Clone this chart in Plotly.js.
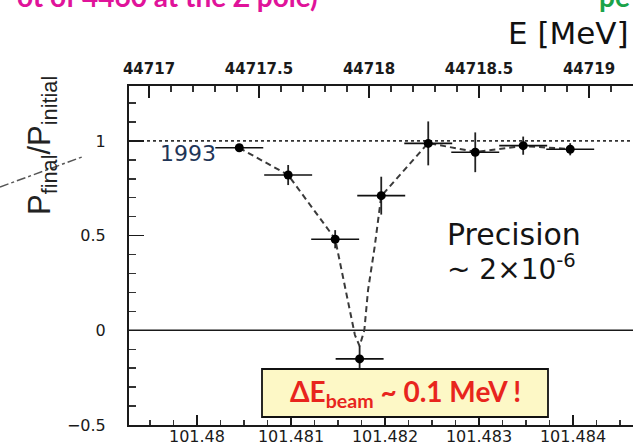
<!DOCTYPE html>
<html>
<head>
<meta charset="utf-8">
<script src="https://cdn.plot.ly/plotly-3.0.1.min.js"></script>
<style>
  html, body { margin: 0; padding: 0; background: #fff; }
  #chart { width: 633px; height: 446px; }
</style>
</head>
<body>
<div id="chart"></div>
<script>
// Measured spin tune points (bottom axis) and the polarisation ratio after the scan
const spinTune = [101.48045, 101.48097, 101.48147, 101.48173, 101.48196, 101.48246, 101.48296, 101.48347, 101.48397];
const spinTuneErr = [0.000255, 0.000255, 0.000255, 0.000255, 0.000255, 0.000255, 0.000255, 0.000255, 0.000255];
const polRatio = [0.964, 0.82, 0.481, -0.151, 0.711, 0.987, 0.94, 0.975, 0.956];
const polRatioErr = [0.016, 0.053, 0.048, 0.069, 0.10, 0.116, 0.105, 0.048, 0.032];

// Dashed guide curve through the depolarisation dip
const curveTune = [101.48045, 101.48097, 101.48147, 101.48160, 101.48168, 101.48173, 101.48178, 101.48182, 101.48189, 101.48196, 101.48246, 101.48296, 101.48347, 101.48397];
const curveRatio = [0.963, 0.82, 0.482, 0.176, -0.025, -0.083, 0.0, 0.213, 0.44, 0.709, 0.989, 0.942, 0.973, 0.957];

// Axis ticks
const tuneTicks = [101.48, 101.481, 101.482, 101.483, 101.484];
const tuneLabels = ['101.48', '101.481', '101.482', '101.483', '101.484'];
const energyTicks = [44717, 44717.5, 44718, 44718.5, 44719];
const energyLabels = ['44717', '44717.5', '44718', '44718.5', '44719'];
const ratioTicks = [-0.5, 0, 0.5, 1];
const ratioLabels = ['\u22120.5', '0', '0.5', '1'];

// Reference levels: full polarisation and zero
const fullPol = 1;
const zeroPol = 0;

// plot frame in pixels, used to place free text
const L = 129, R = 633, T = 86, B = 425;
const px = x => (x - L) / (R - L);
const py = y => (B - y) / (B - T);

const ink = '#1a1a1a';

const traces = [
  {
    x: curveTune, y: curveRatio, xaxis: 'x', yaxis: 'y',
    mode: 'lines', line: { color: '#3a3a3a', width: 2, dash: '6px,4px' },
    hoverinfo: 'skip'
  },
  {
    x: spinTune, y: polRatio, xaxis: 'x', yaxis: 'y',
    mode: 'markers',
    marker: { color: '#000', size: 9 },
    error_x: { type: 'data', array: spinTuneErr, visible: true, color: '#111', thickness: 1.6, width: 0 },
    error_y: { type: 'data', array: polRatioErr, visible: true, color: '#222', thickness: 1.8, width: 0 }
  },
  {
    x: energyTicks, y: energyTicks.map(() => null), xaxis: 'x2', yaxis: 'y',
    mode: 'markers', hoverinfo: 'skip', showlegend: false
  }
];

const layout = {
  width: 633, height: 446,
  margin: { l: L, r: 633 - R, t: T, b: 446 - B },
  paper_bgcolor: '#fff', plot_bgcolor: '#fff',
  showlegend: false,
  xaxis: {
    range: [101.479277, 101.484638],
    tickvals: tuneTicks, ticktext: tuneLabels,
    ticks: 'inside', ticklen: 10, tickwidth: 1.6, tickcolor: ink,
    minor: { dtick: 0.00025, tick0: 101.48, ticks: 'inside', ticklen: 5, tickwidth: 1.3, tickcolor: '#333' },
    showline: true, linecolor: ink, linewidth: 2,
    showgrid: false, zeroline: false,
    tickfont: { family: 'DejaVu Sans', size: 16, color: ink },
    ticklabelstandoff: -4
  },
  xaxis2: {
    overlaying: 'x', side: 'top', anchor: 'y',
    range: [44716.909, 44719.2],
    tickvals: energyTicks, ticktext: energyLabels,
    ticks: 'inside', ticklen: 12, tickwidth: 1.6, tickcolor: ink,
    minor: { dtick: 0.1, tick0: 44717, ticks: 'inside', ticklen: 6, tickwidth: 1.4, tickcolor: '#333' },
    showline: true, linecolor: ink, linewidth: 2,
    showgrid: false, zeroline: false,
    tickfont: { family: 'DejaVu Sans', size: 15, color: ink, weight: 'bold' },
    ticklabelstandoff: 4
  },
  yaxis: {
    range: [-0.5, 1.29],
    tickvals: ratioTicks, ticktext: ratioLabels,
    ticks: 'inside', ticklen: 15, tickwidth: 1.6, tickcolor: ink,
    minor: { dtick: 0.1, tick0: 0, ticks: 'inside', ticklen: 7, tickwidth: 1.4, tickcolor: '#333' },
    showline: true, linecolor: ink, linewidth: 2,
    showgrid: false, zeroline: false,
    tickfont: { family: 'DejaVu Sans', size: 16, color: ink },
    ticklabelstandoff: 18
  },
  shapes: [
    { type: 'line', xref: 'paper', yref: 'y', x0: 0, x1: 1, y0: fullPol, y1: fullPol,
      line: { color: '#333', width: 1.6, dash: 'dot' }, layer: 'below' },
    { type: 'line', xref: 'paper', yref: 'y', x0: 0, x1: 1, y0: zeroPol, y1: zeroPol,
      line: { color: ink, width: 1.6 }, layer: 'below' },
    // diagonal dash-dot stroke behind the vertical label
    { type: 'line', xref: 'paper', yref: 'paper', x0: px(0), y0: py(187), x1: px(82), y1: py(157),
      line: { color: '#555', width: 1.5, dash: 'dashdot' } },
    // highlight box for the beam energy note
    { type: 'rect', xref: 'paper', yref: 'paper', x0: px(262), x1: px(548), y0: py(417), y1: py(369),
      fillcolor: '#fdf8c6', line: { color: '#111', width: 1.8 } }
  ],
  annotations: [
    { xref: 'paper', yref: 'paper', x: px(42), y: py(146), textangle: -90,
      xanchor: 'center', yanchor: 'middle',
      text: 'P<sub>final</sub>/P<sub>initial</sub>', showarrow: false,
      font: { family: 'Liberation Sans', size: 31, color: '#222' } },
    { xref: 'paper', yref: 'paper', x: px(631), y: py(33), xanchor: 'right', yanchor: 'middle',
      text: 'E [MeV]', showarrow: false,
      font: { family: 'DejaVu Sans', size: 31, color: '#111' } },
    { xref: 'paper', yref: 'paper', x: px(320), y: py(-4), xanchor: 'right', yanchor: 'middle',
      text: '<b>ot of 4460 at the Z pole)</b>', showarrow: false,
      font: { family: 'Lato', size: 28, color: '#e0139a' } },
    { xref: 'paper', yref: 'paper', x: px(597), y: py(-4), xanchor: 'left', yanchor: 'middle',
      text: '<b>pe</b>', showarrow: false,
      font: { family: 'Lato', size: 28, color: '#1aa34a' } },
    { xref: 'paper', yref: 'paper', x: px(188), y: py(153), xanchor: 'center', yanchor: 'middle',
      text: '1993', showarrow: false,
      font: { family: 'DejaVu Sans', size: 22, color: '#1f3557' } },
    { xref: 'paper', yref: 'paper', x: px(445), y: py(234), xanchor: 'left', yanchor: 'middle',
      text: 'Precision', showarrow: false,
      font: { family: 'DejaVu Sans', size: 30, color: '#141414' } },
    { xref: 'paper', yref: 'paper', x: px(445), y: py(267), xanchor: 'left', yanchor: 'middle',
      text: '~ 2\u00d710<sup>-6</sup>', showarrow: false,
      font: { family: 'DejaVu Sans', size: 28, color: '#141414' } },
    { xref: 'paper', yref: 'paper', x: px(405), y: py(393), xanchor: 'center', yanchor: 'middle',
      text: '<b>\u0394E<sub>beam</sub> ~ 0.1 MeV !</b>', showarrow: false,
      font: { family: 'Lato', size: 28, color: '#e8251d' } }
  ]
};

Plotly.newPlot('chart', traces, layout, { staticPlot: true, displayModeBar: false });
</script>
</body>
</html>
